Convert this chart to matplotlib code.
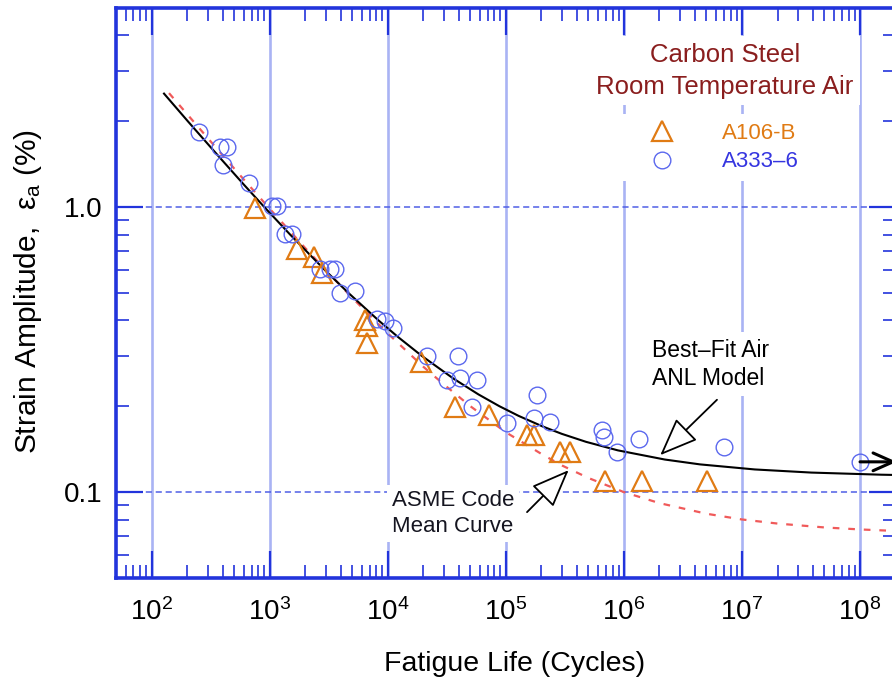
import matplotlib
matplotlib.use('Agg')
import matplotlib.pyplot as plt
from matplotlib.ticker import LogLocator, FixedLocator, FixedFormatter, NullFormatter, LogFormatterSciNotation
import numpy as np

plt.rcParams['font.family'] = ['Liberation Sans', 'DejaVu Sans']
plt.rcParams['mathtext.fontset'] = 'custom'
plt.rcParams['mathtext.rm'] = 'Liberation Sans'
plt.rcParams['mathtext.it'] = 'Liberation Sans:italic'

# ---------------- data ----------------
# A106-B carbon steel (triangles)
a106_N = [750, 1690, 2350, 2760, 6400, 6640, 6640, 19100, 37200, 71300,
          150700, 171500, 288000, 351000, 693000, 1.42e6, 5.05e6]
a106_eps = [0.994, 0.713, 0.666, 0.586, 0.400, 0.382, 0.334, 0.286, 0.1995, 0.1865,
            0.1585, 0.1585, 0.1384, 0.1384, 0.109, 0.109, 0.109]

# A333-6 carbon steel (circles); last point is a run-out
a333_N = [252, 380, 430, 404, 668, 1040, 1145, 1349, 1536, 2667, 3243, 3574,
          3942, 5284, 8070, 9490, 11150, 21400, 39600, 31600, 41000, 56800,
          51500, 101800, 183000, 171500, 237000, 651000, 672000, 873000,
          1.33e6, 6.98e6, 1.0e8]
a333_eps = [1.83, 1.63, 1.63, 1.40, 1.21, 1.01, 1.01, 0.805, 0.805, 0.606, 0.606, 0.606,
            0.501, 0.508, 0.404, 0.398, 0.377, 0.300, 0.300, 0.248, 0.251, 0.248,
            0.1995, 0.174, 0.219, 0.1816, 0.1766, 0.165, 0.156, 0.1384,
            0.154, 0.144, 0.1276]

# Best-fit air ANL model (solid black)
anl_N = [127, 202, 372, 601, 898, 1488, 2937, 4622, 8338, 12180, 19456, 35950,
         58560, 88100, 128100, 203500, 297300, 477000, 888000, 2.22e6, 4.41e6,
         1.28e7, 3.86e7, 1.52e8, 2.68e8]
anl_eps = [2.5, 2.0, 1.5, 1.2, 1.0, 0.8, 0.6, 0.5, 0.4, 0.35, 0.3, 0.25,
           0.22, 0.2, 0.185, 0.17, 0.16, 0.15, 0.14, 0.13, 0.125,
           0.12, 0.117, 0.115, 0.1145]

# ASME Code mean curve (red dashed)
asme_N = [140, 200, 300, 400, 600, 1000, 2000, 3000, 5000, 1e4, 2e4, 3e4, 5e4,
          1e5, 2e5, 3e5, 5e5, 1e6, 2e6, 5e6, 1e7, 2e7, 5e7, 1e8, 2e8]
asme_eps = [2.51, 2.115, 1.74, 1.516, 1.251, 0.985, 0.717, 0.599, 0.480, 0.360, 0.275,
            0.238, 0.200, 0.162, 0.136, 0.1238, 0.112, 0.0999, 0.0914, 0.0839,
            0.0801, 0.0775, 0.0751, 0.0739, 0.0730]

x_major_ticks = [1e2, 1e3, 1e4, 1e5, 1e6, 1e7, 1e8]
y_major_ticks = [0.1, 1.0]
y_tick_labels = ['0.1', '1.0']

# ---------------- figure ----------------
AXIS_BLUE = '#2234dc'
fig = plt.figure(figsize=(8.92, 6.8), dpi=100)
ax = fig.add_axes([0.1303, 0.1503, 0.8737, 0.8382])
ax.set_xscale('log')
ax.set_yscale('log')
ax.set_xlim(50, 2e8)
ax.set_ylim(0.05, 5)

ax.plot(anl_N, anl_eps, color='black', lw=1.5, zorder=4)
ax.plot(asme_N, asme_eps, color='#f05a5a', lw=1.6, dashes=(3, 4), zorder=3)
ax.plot(a106_N, a106_eps, ls='none', marker='^', ms=15, mfc='none',
        mec='#e07b14', mew=1.6, zorder=5, label='A106-B')
ax.plot(a333_N, a333_eps, ls='none', marker='o', ms=12, mfc='none',
        mec='#5b68ee', mew=1.0, zorder=5, label='A333\u20136')

# ticks
ax.xaxis.set_major_locator(FixedLocator(x_major_ticks))
ax.xaxis.set_major_formatter(LogFormatterSciNotation())
ax.xaxis.set_minor_locator(LogLocator(base=10, subs=np.arange(2, 10), numticks=20))
ax.xaxis.set_minor_formatter(NullFormatter())
ax.yaxis.set_major_locator(FixedLocator(y_major_ticks))
ax.yaxis.set_major_formatter(FixedFormatter(y_tick_labels))
ax.yaxis.set_minor_locator(LogLocator(base=10, subs=np.arange(2, 10), numticks=20))
ax.yaxis.set_minor_formatter(NullFormatter())

ax.tick_params(which='major', direction='in', length=19.5, width=1.6,
               color=AXIS_BLUE, top=True, right=True, labelsize=20)
ax.tick_params(axis='x', which='major', pad=15)
ax.tick_params(axis='y', which='major', pad=10)
ax.tick_params(which='minor', direction='in', length=9.5, width=1.2,
               color=AXIS_BLUE, top=True, right=True)

for s in ax.spines.values():
    s.set_color(AXIS_BLUE)
    s.set_linewidth(2.6)

# grid
ax.set_axisbelow(True)
ax.xaxis.grid(True, which='major', color='#a9b3f4', lw=1.9, ls='-')
ax.yaxis.grid(True, which='major', color='#4f5fe6', lw=1.1, ls=(0, (4, 2.5)))

# labels
ax.set_xlabel('Fatigue Life (Cycles)', fontsize=20.5)
ax.xaxis.set_label_coords(0.5105, -0.128)
ax.set_ylabel('Strain Amplitude,  $\\mathregular{\u03b5_a}$ (%)', fontsize=21.5)
ax.yaxis.set_label_coords(-0.0927, 0.5023)

# annotations
ax.text(0.781, 0.890, 'Carbon Steel\nRoom Temperature Air', transform=ax.transAxes,
        ha='center', va='center', fontsize=18.5, color='#8a1e1e', linespacing=1.42,
        bbox=dict(boxstyle='square,pad=0.25', fc='white', ec='none'), zorder=6)

ax.text(0.6872, 0.3745, 'Best\u2013Fit Air\nANL Model', transform=ax.transAxes,
        ha='left', va='center', fontsize=16.5, color='black', linespacing=1.25,
        bbox=dict(boxstyle='square,pad=0.3', fc='white', ec='none'), zorder=6)

ax.text(0.3535, 0.113, 'ASME Code\nMean Curve', transform=ax.transAxes,
        ha='left', va='center', fontsize=16, color='#151520', linespacing=1.35,
        bbox=dict(boxstyle='square,pad=0.2', fc='white', ec='none'), zorder=6)

hollow = dict(arrowstyle='-|>,head_length=1.5,head_width=0.6', fc='white',
              ec='black', lw=1.3, shrinkA=0, shrinkB=0, mutation_scale=16)
ax.annotate('', xy=(2.03e6, 0.1347), xytext=(6.14e6, 0.2107), arrowprops=hollow, zorder=7)
ax.annotate('', xy=(3.4e5, 0.1193), xytext=(1.51e5, 0.085), arrowprops=hollow, zorder=7)

# run-out arrow on last A333-6 point
ax.annotate('', xy=(2.05e8, a333_eps[-1]), xytext=(a333_N[-1], a333_eps[-1]),
            arrowprops=dict(arrowstyle='->,head_length=0.9,head_width=0.4', color='black',
                            lw=2.2, shrinkA=0, shrinkB=0, mutation_scale=16),
            annotation_clip=False, zorder=7)

leg = ax.legend(loc='center', bbox_to_anchor=(0.7668, 0.7544), fontsize=16,
                frameon=True, fancybox=False, edgecolor='none', facecolor='white',
                framealpha=1, handlelength=3.0, handletextpad=1.2, labelspacing=0.33,
                borderpad=0.4, numpoints=1)
for t, c in zip(leg.get_texts(), ['#e07b14', '#3535e0']):
    t.set_color(c)
leg.set_zorder(6)

fig.savefig('out.png', dpi=100)
